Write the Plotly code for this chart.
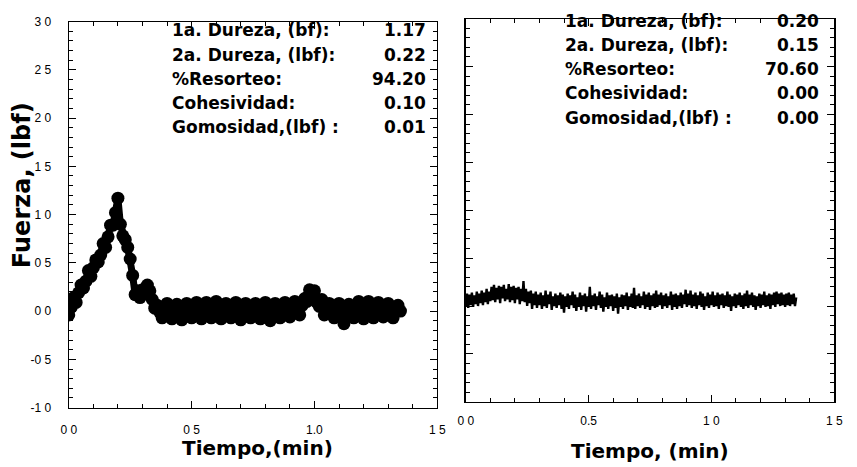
import plotly.graph_objects as go
import numpy as np

# ---------------- data ----------------
# Left panel: force vs time, sampled every 0.01 min (0.00 .. 1.35)
t_left = np.round(np.arange(136) * 0.01, 2)
f_left = [
    # rise 0.00-0.19
    -0.04, 0.04, 0.14, 0.09, 0.19, 0.27, 0.24, 0.31, 0.42, 0.36,
    0.45, 0.53, 0.51, 0.58, 0.70, 0.66, 0.77, 0.89, 0.89, 1.02,
    # peak 0.20
    1.17,
    # after peak 0.21-0.26
    0.90, 0.78, 0.74, 0.66, 0.54, 0.37,
    # 0.27-0.35
    0.17, 0.21, 0.14, 0.22, 0.18, 0.27, 0.21, 0.12, 0.03,
    # 0.36-1.35
    0.06, -0.01, -0.07, 0.01, 0.08, -0.02, -0.08, 0.02, 0.07, 0.00,
    -0.09, 0.01, 0.08, -0.01, -0.07, 0.02, 0.09, 0.00, -0.08, 0.01,
    0.09, -0.02, -0.07, 0.01, 0.10, 0.00, -0.08, 0.02, 0.08, -0.01,
    -0.07, 0.01, 0.09, -0.01, -0.09, 0.02, 0.08, 0.00, -0.07, 0.01,
    0.08, -0.02, -0.08, 0.01, 0.09, 0.00, -0.10, 0.01, 0.08, -0.01,
    -0.07, 0.02, 0.09, -0.01, -0.06, 0.03, 0.10, 0.01, -0.04, 0.06,
    0.13, 0.10, 0.22, 0.16, 0.21, 0.09, 0.05, 0.12, -0.04, 0.03,
    0.08, -0.02, -0.07, 0.01, 0.08, -0.03, -0.13, 0.00, 0.07, -0.01,
    -0.07, 0.02, 0.10, 0.00, -0.08, 0.01, 0.10, -0.01, -0.07, 0.02,
    0.09, 0.00, -0.06, 0.02, 0.08, -0.01, -0.07, 0.03, 0.06, 0.00,
]

# Right panel: force vs time, sampled every 0.005 min (0.000 .. 1.345)
t_right = np.round(np.arange(270) * 0.005, 3)
f_right = [
    0.00, 0.13, -0.02, 0.12, 0.01, 0.14, -0.01, 0.11, 0.02, 0.15, 0.00, 0.13, 0.03, 0.16, 0.01, 0.14, 0.04, 0.18, 0.02, 0.15,
    0.05, 0.20, 0.06, 0.22, 0.04, 0.19, 0.07, 0.21, 0.03, 0.20, 0.08, 0.22, 0.05, 0.18, 0.07, 0.23, 0.04, 0.20, 0.06, 0.21,
    0.03, 0.19, 0.07, 0.20, 0.02, 0.18, 0.05, 0.26, 0.04, 0.18, 0.00, 0.15, 0.03, 0.16, -0.03, 0.13, 0.01, 0.15, -0.02, 0.12,
    0.01, 0.14, -0.03, 0.11, 0.00, 0.16, -0.02, 0.12, 0.02, 0.15, -0.04, 0.10, 0.00, 0.13, -0.02, 0.11, 0.01, 0.14, -0.03, 0.12,
    -0.07, 0.10, -0.01, 0.13, -0.03, 0.11, 0.01, 0.15, -0.02, 0.12, -0.05, 0.09, -0.01, 0.14, -0.04, 0.11, 0.00, 0.13, -0.06, 0.10,
    -0.01, 0.20, -0.03, 0.11, 0.00, 0.13, -0.04, 0.10, 0.01, 0.15, -0.02, 0.12, -0.06, 0.09, -0.01, 0.14, -0.03, 0.11, 0.00, 0.12,
    -0.05, 0.10, -0.02, 0.13, -0.08, 0.09, -0.01, 0.12, -0.03, 0.11, 0.00, 0.14, -0.04, 0.10, -0.01, 0.13, -0.02, 0.19, -0.03, 0.11,
    0.00, 0.13, -0.02, 0.10, 0.01, 0.15, -0.03, 0.12, -0.01, 0.14, -0.04, 0.11, 0.00, 0.13, -0.02, 0.16, -0.01, 0.12, 0.01, 0.14,
    -0.03, 0.11, 0.00, 0.13, -0.02, 0.10, 0.01, 0.15, -0.04, 0.12, -0.01, 0.13, -0.03, 0.11, 0.00, 0.14, -0.02, 0.12, 0.02, 0.17,
    -0.01, 0.13, 0.01, 0.16, -0.02, 0.12, 0.00, 0.14, -0.03, 0.11, 0.01, 0.15, -0.01, 0.13, -0.04, 0.10, 0.00, 0.14, -0.02, 0.12,
    0.01, 0.15, -0.01, 0.11, 0.00, 0.14, -0.03, 0.12, 0.01, 0.13, -0.02, 0.11, 0.00, 0.15, -0.01, 0.12, -0.05, 0.10, 0.00, 0.13,
    -0.02, 0.12, 0.01, 0.14, -0.01, 0.11, -0.03, 0.13, 0.00, 0.16, -0.02, 0.12, 0.01, 0.14, -0.01, 0.11, -0.04, 0.10, 0.00, 0.13,
    -0.02, 0.12, 0.01, 0.15, -0.01, 0.11, 0.00, 0.13, -0.03, 0.12, 0.01, 0.14, -0.01, 0.15, 0.02, 0.13, 0.00, 0.14, 0.01, 0.12,
    -0.01, 0.13, 0.01, 0.14, 0.00, 0.12, 0.02, 0.13, 0.00, 0.09,
]

y_tickvals = [-1.0, -0.5, 0.0, 0.5, 1.0, 1.5, 2.0, 2.5, 3.0]
y_ticktext = ["-1 0", "-0 5", "0 0", "0 5", "1 0", "1 5", "2 0", "2 5", "3 0"]
x_tickvals = [0.0, 0.5, 1.0, 1.5]
x_ticktext_left = ["0 0", "0 5", "1.0", "1 5"]
x_ticktext_right = ["0 0", "0.5", "1 0", "1 5"]

left_labels = ["1a. Dureza, (bf):", "2a. Dureza, (lbf):", "%Resorteo:", "Cohesividad:", "Gomosidad,(lbf) :"]
left_values = ["1.17", "0.22", "94.20", "0.10", "0.01"]
right_labels = ["1a. Dureza, (bf):", "2a. Dureza, (lbf):", "%Resorteo:", "Cohesividad:", "Gomosidad,(lbf) :"]
right_values = ["0.20", "0.15", "70.60", "0.00", "0.00"]

x_title_left = "Tiempo,(min)"
x_title_right = "Tiempo, (min)"
y_title = "Fuerza, (lbf)"

# ---------------- layout helpers ----------------
W, H = 857, 467


def fx(p):
    return p / W


def fy(p):
    return 1 - p / H


tick_font = dict(family="Liberation Sans, Arial, sans-serif", size=12, color="black")
text_font = dict(family="DejaVu Sans, sans-serif", size=17, color="black", weight="bold")


def base_axis(**kw):
    d = dict(
        showgrid=False, zeroline=False, showline=True, linecolor="black", linewidth=1.2,
        mirror="ticks", ticks="inside", ticklen=7, tickcolor="black", tickwidth=1,
        minor=dict(ticks="inside", ticklen=4, dtick=0.1, tickcolor="black", tickwidth=1, showgrid=False),
        tickfont=tick_font, fixedrange=True,
    )
    d.update(kw)
    return d


fig = go.Figure()
fig.add_trace(go.Scatter(
    x=t_left, y=f_left, mode="lines+markers",
    marker=dict(size=13, color="black", line=dict(width=0)),
    line=dict(color="black", width=7),
    xaxis="x", yaxis="y", hoverinfo="skip",
))
fig.add_trace(go.Scatter(
    x=t_right, y=f_right, mode="lines",
    line=dict(color="black", width=2.4),
    xaxis="x2", yaxis="y2", hoverinfo="skip",
))

fig.update_layout(
    width=W, height=H, autosize=False,
    margin=dict(l=0, r=0, t=0, b=0),
    paper_bgcolor="white", plot_bgcolor="white",
    showlegend=False,
    xaxis=base_axis(domain=[fx(62), fx(438)], range=[0, 1.5], anchor="y",
                    tickvals=x_tickvals, ticktext=x_ticktext_left, ticklabelstandoff=11),
    yaxis=base_axis(domain=[fy(413), fy(15)], range=[-1, 3], anchor="x",
                    tickvals=y_tickvals, ticktext=y_ticktext, ticklabelstandoff=14),
    xaxis2=base_axis(domain=[fx(467), fx(843)], range=[0, 1.5], anchor="y2",
                     tickvals=x_tickvals, ticktext=x_ticktext_right, ticklabelstandoff=8),
    yaxis2=base_axis(domain=[fy(407), fy(12)], range=[-1, 3], anchor="x2",
                     tickvals=y_tickvals, showticklabels=False, linewidth=1.6),
)

annotations = []
for i, (lab, val) in enumerate(zip(left_labels, left_values)):
    yc = 24 + i * 25
    annotations.append(dict(x=fx(165), y=fy(yc), xref="paper", yref="paper", text=lab,
                            xanchor="left", yanchor="middle", showarrow=False, font=text_font))
    annotations.append(dict(x=fx(428), y=fy(yc), xref="paper", yref="paper", text=val,
                            xanchor="right", yanchor="middle", showarrow=False, font=text_font))
for i, (lab, val) in enumerate(zip(right_labels, right_values)):
    yc = 14 + i * 25
    annotations.append(dict(x=fx(566), y=fy(yc), xref="paper", yref="paper", text=lab,
                            xanchor="left", yanchor="middle", showarrow=False, font=text_font))
    annotations.append(dict(x=fx(829), y=fy(yc), xref="paper", yref="paper", text=val,
                            xanchor="right", yanchor="middle", showarrow=False, font=text_font))

title_font = dict(family="DejaVu Sans, sans-serif", size=20, color="black", weight="bold")
annotations.append(dict(x=fx(255), y=fy(455), xref="paper", yref="paper", text=x_title_left,
                        xanchor="center", yanchor="middle", showarrow=False, font=title_font))
annotations.append(dict(x=fx(655), y=fy(458), xref="paper", yref="paper", text=x_title_right,
                        xanchor="center", yanchor="middle", showarrow=False, font=title_font))
annotations.append(dict(x=fx(15), y=fy(184), xref="paper", yref="paper", text=y_title, textangle=-90,
                        xanchor="center", yanchor="middle", showarrow=False,
                        font=dict(family="DejaVu Sans, sans-serif", size=24, color="black", weight="bold")))

fig.update_layout(annotations=annotations)
fig.write_html("out.html")
